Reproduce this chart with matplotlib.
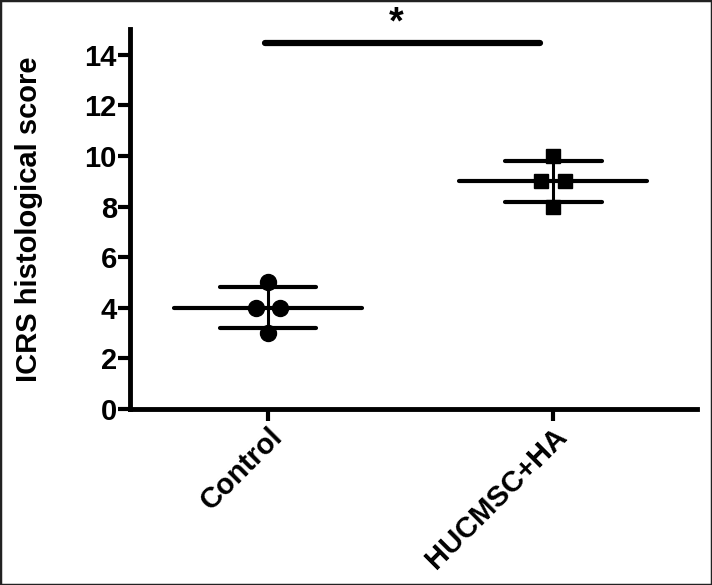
import numpy as np
import matplotlib
matplotlib.use("Agg")
import matplotlib.pyplot as plt
from matplotlib.patches import Rectangle

# data
groups = ["Control", "HUCMSC+HA"]
control = [5, 4, 4, 3]
hucmsc = [10, 9, 9, 8]
markers = ["o", "s"]
sig_label = "*"
sig_y = 14.45

plt.rcParams['font.family'] = ['Liberation Sans', 'DejaVu Sans']
plt.rcParams['font.weight'] = 'bold'

fig = plt.figure(figsize=(7.12, 5.85), dpi=100)
ax = fig.add_axes([0.1826, 0.3009, 0.7964, 0.6487])

jitter = [0, -0.042, 0.042, 0]
for i, (vals, m) in enumerate(zip([control, hucmsc], markers)):
    vals = np.array(vals, dtype=float)
    mean = vals.mean()
    sd = vals.std(ddof=1)
    ax.plot([i + j for j in jitter], vals, m, color='black',
            markersize=11.5 if m == 'o' else 10.5, zorder=3)
    # mean line
    ax.plot([i - 0.33, i + 0.33], [mean, mean], color='black', lw=3,
            solid_capstyle='round', zorder=2)
    # sd
    ax.plot([i, i], [mean - sd, mean + sd], color='black', lw=2.2, zorder=2)
    for yy in (mean - sd, mean + sd):
        ax.plot([i - 0.17, i + 0.17], [yy, yy], color='black', lw=3,
                solid_capstyle='round', zorder=2)

# significance bar
ax.plot([-0.01, 0.955], [sig_y, sig_y], color='black', lw=4.5,
        solid_capstyle='round', clip_on=False)
ax.text(0.45, 15.25, sig_label, ha='center', va='center',
        fontsize=27, fontweight='bold', clip_on=False)

ax.set_xlim(-0.484, 1.505)
ax.set_ylim(0, 15)
ax.set_yticks(range(0, 15, 2))
ax.set_xticks(range(len(groups)))
ax.set_xticklabels(groups, rotation=45, ha='right', rotation_mode='anchor',
                   fontsize=21, fontweight='bold')
for lab in ax.get_yticklabels():
    lab.set_fontsize(21)
    lab.set_fontweight('bold')
ax.set_ylabel("ICRS histological score", fontsize=21, fontweight='bold',
              labelpad=30)

for s in ['top', 'right']:
    ax.spines[s].set_visible(False)
for s in ['left', 'bottom']:
    ax.spines[s].set_linewidth(3.5)
ax.tick_params(width=3, length=8.5, direction='out', pad=1)

# image frame
fig.patches.append(Rectangle((0, 0), 1, 1, transform=fig.transFigure,
                             fill=False, edgecolor='#222222', lw=2.5))

fig.savefig("out.png", dpi=100)
